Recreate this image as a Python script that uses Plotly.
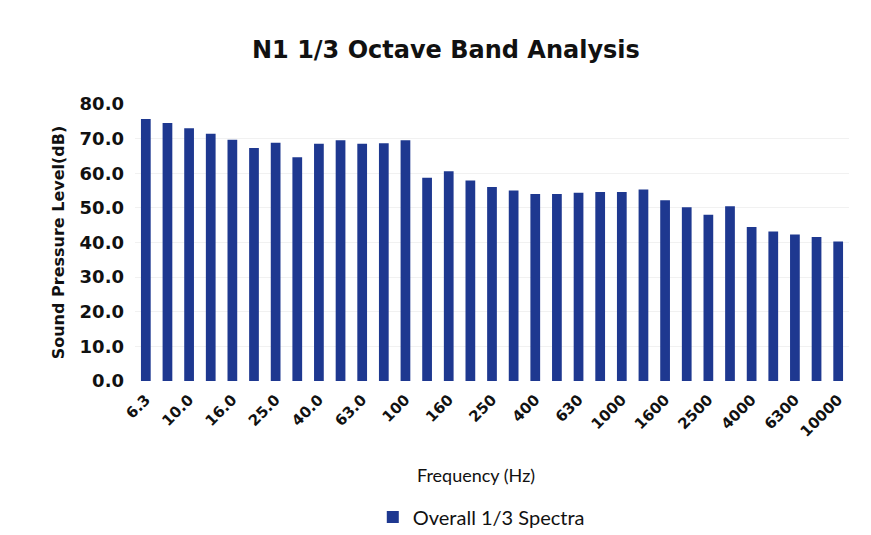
import plotly.graph_objects as go

# 1/3 octave band centre frequencies (Hz) as category labels
bands = ["6.3", "8.0", "10.0", "12.5", "16.0", "20.0", "25.0", "31.5", "40.0", "50.0",
         "63.0", "80.0", "100", "125", "160", "200", "250", "315", "400", "500",
         "630", "800", "1000", "1250", "1600", "2000", "2500", "3150", "4000", "5000",
         "6300", "8000", "10000"]

# Overall 1/3 octave spectrum, sound pressure level in dB
spl = [75.7, 74.5, 73.0, 71.4, 69.7, 67.3, 68.8, 64.6, 68.5, 69.5,
       68.5, 68.7, 69.5, 58.7, 60.6, 57.9, 56.0, 55.0, 54.0, 54.0,
       54.4, 54.6, 54.6, 55.3, 52.2, 50.2, 48.0, 50.5, 44.5, 43.2,
       42.3, 41.6, 40.3]

# Every other band is labelled on the axis
shown_ticks = bands[::2]

y_ticks = [0, 10, 20, 30, 40, 50, 60, 70, 80]

bar_color = "#1e3890"
text_font = "Lato, 'Open Sans', sans-serif"
bold_font = "'DejaVu Sans', sans-serif"

# plot area in pixels (used to place the x-axis title in paper coordinates)
W, H = 871, 535
M_L, M_R, M_T, M_B = 135, 22, 104, 154
plot_w = W - M_L - M_R
plot_h = H - M_T - M_B

fig = go.Figure(
    go.Bar(
        x=bands,
        y=spl,
        name="Overall 1/3 Spectra",
        marker=dict(color=bar_color, line=dict(width=0)),
    )
)

fig.update_layout(
    width=W,
    height=H,
    margin=dict(l=M_L, r=M_R, t=M_T, b=M_B),
    paper_bgcolor="white",
    plot_bgcolor="white",
    font=dict(family=text_font, color="#111111"),
    bargap=0.55,
    title=dict(
        text="N1 1/3 Octave Band Analysis",
        x=0.512,
        xanchor="center",
        y=1 - 50 / H,
        yanchor="middle",
        font=dict(size=24, color="#111111", family=bold_font, weight=600),
    ),
    showlegend=True,
    legend=dict(
        orientation="h",
        x=0.485,
        xanchor="center",
        yref="container",
        y=1 - 517 / H,
        yanchor="middle",
        font=dict(size=20, color="#111111", family=text_font),
    ),
    # x-axis title, placed slightly left of the plot centre
    annotations=[
        dict(
            text="Frequency (Hz)",
            xref="paper",
            yref="paper",
            x=(476 - M_L) / plot_w,
            y=((H - M_B) - 475) / plot_h,
            xanchor="center",
            yanchor="middle",
            showarrow=False,
            font=dict(size=18, color="#111111", family=text_font),
        )
    ],
)

fig.update_xaxes(
    type="category",
    tickmode="array",
    tickvals=shown_ticks,
    ticktext=shown_ticks,
    tickangle=-45,
    tickfont=dict(size=15, color="#111111", family=bold_font, weight="bold"),
    ticklabelstandoff=6,
    showgrid=False,
    showline=False,
    ticks="",
)

fig.update_yaxes(
    range=[0, 80],
    tickmode="array",
    tickvals=y_ticks,
    ticktext=[f"{v:.1f}" for v in y_ticks],
    tickfont=dict(size=18, color="#111111", family=bold_font, weight="bold"),
    ticklabelstandoff=10,
    showgrid=True,
    gridcolor="#f1f1f1",
    zeroline=False,
    showline=False,
    ticks="",
    title=dict(text="Sound Pressure Level(dB)",
               font=dict(size=16, color="#111111", family=bold_font, weight="bold"), standoff=10),
)

fig.write_html("out.html")
